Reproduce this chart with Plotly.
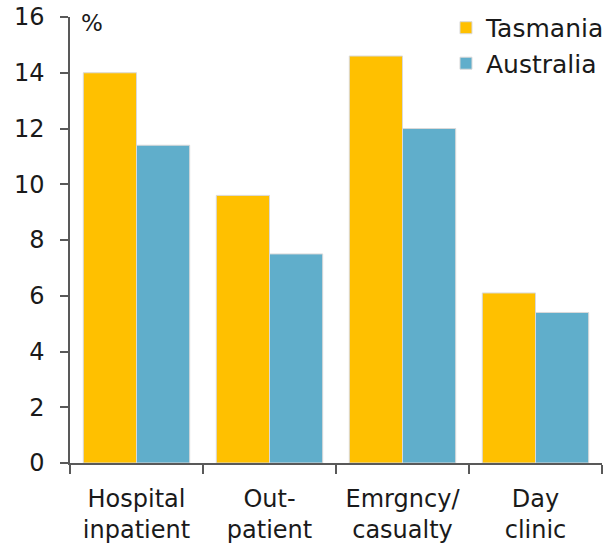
import plotly.graph_objects as go

categories = ["Hospital<br>inpatient", "Out-<br>patient", "Emrgncy/<br>casualty", "Day<br>clinic"]
tasmania = [14.0, 9.6, 14.6, 6.1]
australia = [11.4, 7.5, 12.0, 5.4]
y_ticks = [0, 2, 4, 6, 8, 10, 12, 14, 16]

FONT = "'DejaVu Sans', sans-serif"
AX = "#595959"

fig = go.Figure()
fig.add_trace(go.Bar(name="Tasmania", x=categories, y=tasmania,
                     marker=dict(color="#FFC000", line=dict(color="#D9D9D9", width=1))))
fig.add_trace(go.Bar(name="Australia", x=categories, y=australia,
                     marker=dict(color="#60AECB", line=dict(color="#D9D9D9", width=1))))

fig.update_layout(
    width=611, height=545,
    margin=dict(l=70, r=9, t=17, b=82, autoexpand=False),
    paper_bgcolor="white", plot_bgcolor="white",
    barmode="group", bargap=0.2, bargroupgap=0,
    font=dict(family=FONT, size=24, color="#1a1a1a"),
    showlegend=True,
    legend=dict(x=1.015, xanchor="right", y=1.027, yanchor="top",
                bgcolor="rgba(0,0,0,0)", font=dict(size=25)),
    xaxis=dict(showline=True, linecolor=AX, linewidth=1.5,
               ticks="outside", tickson="boundaries", ticklen=9,
               tickcolor=AX, tickwidth=1.5, showgrid=False,
               automargin=False, ticklabelstandoff=13),
    yaxis=dict(range=[0, 16], tickvals=y_ticks, showline=True,
               linecolor=AX, linewidth=1.5, ticks="outside", ticklen=8,
               tickcolor=AX, tickwidth=1.5, showgrid=False, zeroline=False,
               automargin=False, ticklabelstandoff=11),
    annotations=[dict(text="%", x=0.017, y=0.986, xref="paper", yref="paper",
                      xanchor="left", yanchor="middle", showarrow=False,
                      font=dict(size=23))],
)

fig.write_html("out.html", config={"displayModeBar": False},
               post_script="document.body.style.margin='0';")
